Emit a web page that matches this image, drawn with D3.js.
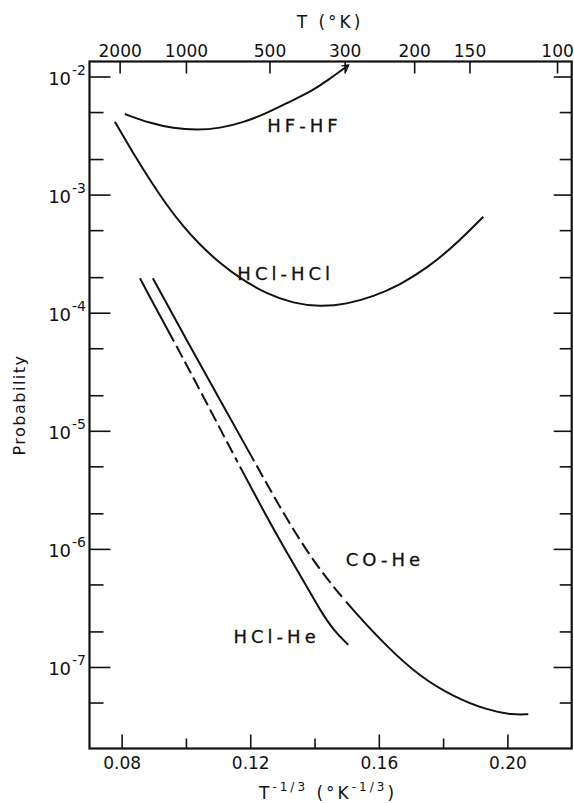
<!DOCTYPE html>
<html>
<head>
<meta charset="utf-8">
<script src="https://cdn.jsdelivr.net/npm/d3@7"></script>
<style>
  html, body { margin: 0; padding: 0; background: #fff; }
  svg { display: block; }
  text { font-family: "DejaVu Sans", sans-serif; fill: #111; }
</style>
</head>
<body>
<svg id="chart" width="574" height="803"></svg>
<script>
// ---------- data ----------
const X_DOMAIN = [0.07, 0.22];            // T^(-1/3)
const Y_DOMAIN = [1.34e-2, 2.04e-8];      // probability (log)
const X_MAJOR = [0.08, 0.12, 0.16, 0.20];
const X_MINOR = [0.10, 0.14, 0.18];
const T_TICKS = [2000, 1000, 500, 300, 200, 150, 100];
const Y_MAJOR = [1e-2, 1e-3, 1e-4, 1e-5, 1e-6, 1e-7];
const Y_MAJOR_EXP = ["-2", "-3", "-4", "-5", "-6", "-7"];
const Y_MINOR = [5e-3, 2e-3, 5e-4, 2e-4, 5e-5, 2e-5, 5e-6, 2e-6, 5e-7, 2e-7, 5e-8];

const HF_HF = [
  [0.0810, 4.81e-3], [0.0888, 4.02e-3], [0.0961, 3.64e-3], [0.1033, 3.52e-3],
  [0.1106, 3.64e-3], [0.1178, 4.09e-3], [0.1251, 4.88e-3], [0.1313, 5.93e-3],
  [0.1396, 7.68e-3], [0.1438, 9.16e-3], [0.1506, 1.25e-2]
];
const HCL_HCL = [
  [0.0779, 4.14e-3], [0.0836, 2.24e-3], [0.0888, 1.33e-3], [0.0940, 8.16e-4],
  [0.0992, 5.35e-4], [0.1044, 3.74e-4], [0.1106, 2.62e-4], [0.1168, 1.96e-4],
  [0.1251, 1.44e-4], [0.1334, 1.20e-4], [0.1417, 1.12e-4], [0.1500, 1.18e-4],
  [0.1583, 1.37e-4], [0.1666, 1.72e-4], [0.1749, 2.38e-4], [0.1832, 3.62e-4],
  [0.1925, 6.50e-4]
];
const HCL_HE = [
  [0.0857, 1.96e-4], [0.0898, 1.20e-4], [0.0961, 5.87e-5], [0.1065, 1.71e-5],
  [0.1170, 4.84e-6], [0.1251, 1.87e-6], [0.1313, 9.41e-7], [0.1376, 4.79e-7],
  [0.1417, 3.04e-7], [0.1458, 2.06e-7], [0.1505, 1.54e-7]
];
const HCL_HE_DASHED = [0.0963, 0.1168];
const CO_HE = [
  [0.0897, 1.96e-4], [0.1002, 5.87e-5], [0.1106, 1.82e-5], [0.1210, 5.66e-6],
  [0.1303, 2.00e-6], [0.1396, 7.79e-7], [0.1500, 3.46e-7], [0.1624, 1.49e-7],
  [0.1728, 8.28e-8], [0.1832, 5.61e-8], [0.1936, 4.32e-8], [0.2018, 3.92e-8],
  [0.2065, 3.98e-8]
];
const CO_HE_DASHED = [0.1212, 0.1498];

const LABELS = [
  { text: "HF-HF",   u: 0.1253, p: 3.4e-3 },
  { text: "HCl-HCl", u: 0.1160, p: 1.9e-4 },
  { text: "CO-He",   u: 0.1497, p: 7.1e-7 },
  { text: "HCl-He",  u: 0.1148, p: 1.6e-7 }
];

// ---------- layout ----------
const L = 89.5, R = 571.7, T = 61.5, B = 748.5;
const svg = d3.select("#chart");

const x = d3.scaleLinear().domain(X_DOMAIN).range([L, R]);
const y = d3.scaleLog().domain(Y_DOMAIN).range([T, B]);
const xT = d3.scalePow().exponent(-1 / 3)
  .domain([Math.pow(X_DOMAIN[0], -3), Math.pow(X_DOMAIN[1], -3)])
  .range([L, R]);

const ink = "#111";

function styleAxis(g) {
  g.select(".domain").remove();
  g.selectAll(".tick line").attr("stroke", ink).attr("stroke-width", 1.6);
  g.selectAll(".tick text").attr("font-size", 17).attr("fill", ink)
    .attr("font-family", "DejaVu Sans, sans-serif");
}

// bottom axis
svg.append("g").attr("transform", `translate(0,${B})`)
  .call(d3.axisBottom(x).tickValues(X_MAJOR).tickSize(-14).tickPadding(8)
    .tickFormat(d3.format(".2f")))
  .call(styleAxis);
svg.append("g").attr("transform", `translate(0,${B})`)
  .call(d3.axisBottom(x).tickValues(X_MINOR).tickSize(-10).tickFormat(""))
  .call(styleAxis);

// top axis (T)
svg.append("g").attr("transform", `translate(0,${T})`)
  .call(d3.axisTop(xT).tickValues(T_TICKS).tickSize(-12).tickPadding(5)
    .tickFormat(d3.format("d")))
  .call(styleAxis);

// left axis
svg.append("g").attr("transform", `translate(${L},0)`)
  .call(d3.axisLeft(y).tickValues(Y_MAJOR).tickSize(-21).tickFormat(""))
  .call(styleAxis);
svg.append("g").attr("transform", `translate(${L},0)`)
  .call(d3.axisLeft(y).tickValues(Y_MINOR).tickSize(-14).tickFormat(""))
  .call(styleAxis);
// right axis
svg.append("g").attr("transform", `translate(${R},0)`)
  .call(d3.axisRight(y).tickValues(Y_MAJOR).tickSize(-18).tickFormat(""))
  .call(styleAxis);
svg.append("g").attr("transform", `translate(${R},0)`)
  .call(d3.axisRight(y).tickValues(Y_MINOR).tickSize(-12).tickFormat(""))
  .call(styleAxis);

// y labels 10^-n
Y_MAJOR.forEach((v, i) => {
  const t = svg.append("text")
    .attr("x", 86).attr("y", y(v) + 8)
    .attr("text-anchor", "end").attr("font-size", 18);
  t.append("tspan").text("10");
  t.append("tspan").attr("dy", -10).attr("dx", 1).attr("font-size", 14).text(Y_MAJOR_EXP[i]);
});

// frame
svg.append("rect").attr("x", L).attr("y", T).attr("width", R - L).attr("height", B - T)
  .attr("fill", "none").attr("stroke", ink).attr("stroke-width", 2.2);

// axis titles
svg.append("text").attr("x", 330).attr("y", 28).attr("text-anchor", "middle")
  .attr("font-size", 17).attr("letter-spacing", 3).text("T (°K)");

const bt = svg.append("text").attr("x", 328).attr("y", 799).attr("text-anchor", "middle")
  .attr("font-size", 17).attr("letter-spacing", 3);
bt.append("tspan").text("T");
bt.append("tspan").attr("dy", -8).attr("font-size", 12).text("-1/3");
bt.append("tspan").attr("dy", 8).text(" (°K");
bt.append("tspan").attr("dy", -8).attr("font-size", 12).text("-1/3");
bt.append("tspan").attr("dy", 8).text(")");

svg.append("text").attr("transform", `translate(25,${(T + B) / 2}) rotate(-90)`)
  .attr("text-anchor", "middle").attr("font-size", 16).attr("letter-spacing", 1.5)
  .text("Probability");

// arrow marker
svg.append("defs").append("marker").attr("id", "arrow")
  .attr("viewBox", "0 -5 10 10").attr("refX", 8).attr("refY", 0)
  .attr("markerWidth", 9).attr("markerHeight", 9).attr("markerUnits", "userSpaceOnUse")
  .attr("orient", "auto")
  .append("path").attr("d", "M1,-4L8,0L1,4").attr("fill", "none")
  .attr("stroke", ink).attr("stroke-width", 1.6);

// curves
const line = d3.line().x(d => x(d[0])).y(d => y(d[1])).curve(d3.curveBasis);

function lengthAtX(node, px) {
  let lo = 0, hi = node.getTotalLength();
  for (let k = 0; k < 40; k++) {
    const mid = (lo + hi) / 2;
    if (node.getPointAtLength(mid).x < px) lo = mid; else hi = mid;
  }
  return (lo + hi) / 2;
}

function drawSeries(data, dashed, markerEnd) {
  const p = svg.append("path").attr("d", line(data))
    .attr("fill", "none").attr("stroke", ink).attr("stroke-width", 2)
    .attr("stroke-linecap", "butt");
  if (markerEnd) p.attr("marker-end", "url(#arrow)");
  if (dashed) {
    const node = p.node();
    const total = node.getTotalLength();
    const L1 = lengthAtX(node, x(dashed[0]));
    const L2 = lengthAtX(node, x(dashed[1]));
    const dash = 13, gap = 5;
    const arr = [L1, gap];
    let pos = L1 + gap;
    while (pos + dash + gap <= L2) { arr.push(dash, gap); pos += dash + gap; }
    const rem = L2 - pos;
    if (rem > gap) { arr.push(rem - gap, gap); }
    else if (rem > 0) { arr.push(0, rem); }
    arr.push(total, 0);
    p.attr("stroke-dasharray", arr.map(v => v.toFixed(2)).join(","));
  }
}

drawSeries(HF_HF, null, true);
drawSeries(HCL_HCL, null, false);
drawSeries(HCL_HE, HCL_HE_DASHED, false);
drawSeries(CO_HE, CO_HE_DASHED, false);

// curve labels
LABELS.forEach(l => {
  svg.append("text").attr("x", x(l.u)).attr("y", y(l.p))
    .attr("font-size", 18).attr("letter-spacing", 4)
    .attr("stroke", ink).attr("stroke-width", 0.3).text(l.text);
});
</script>
</body>
</html>
